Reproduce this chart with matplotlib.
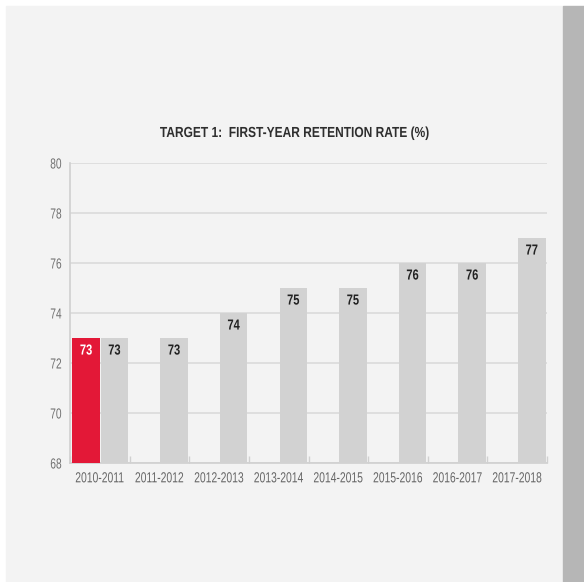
import numpy as np
import matplotlib.pyplot as plt
import matplotlib.patches as mpatches
from matplotlib.patheffects import AbstractPathEffect
from matplotlib.transforms import Affine2D

# first-year retention rate by academic year
years = ['2010-2011', '2011-2012', '2012-2013', '2013-2014',
         '2014-2015', '2015-2016', '2016-2017', '2017-2018']
retention = [73, 73, 74, 75, 75, 76, 76, 77]
baseline_year = ['2010-2011']
baseline = [73]

FONT = 'Liberation Sans'


class Squeeze(AbstractPathEffect):
    """Narrow a text horizontally, keeping its anchor edge/centre in place."""

    def __init__(self, text, sx, anchor='center'):
        super().__init__()
        self.text = text
        self.sx = sx
        self.anchor = anchor

    def draw_path(self, renderer, gc, tpath, affine, rgbFace=None):
        bb = self.text.get_window_extent(renderer)
        cx = {'center': (bb.x0 + bb.x1) / 2, 'right': bb.x1, 'left': bb.x0}[self.anchor]
        t = affine + Affine2D().translate(-cx, 0).scale(self.sx, 1).translate(cx, 0)
        renderer.draw_path(gc, tpath, t, rgbFace)


def narrow(text, sx, anchor='center'):
    text.set_path_effects([Squeeze(text, sx, anchor)])


def main():
    fig = plt.figure(figsize=(5.84, 5.82), dpi=100, facecolor='white')

    # panel background and the dark strip on the right
    bg = fig.add_axes([0, 0, 1, 1], zorder=-1)
    bg.set_xlim(0, 584)
    bg.set_ylim(582, 0)
    bg.axis('off')
    bg.add_patch(mpatches.Rectangle((6, 6), 557, 576, color='#f3f3f3'))
    bg.add_patch(mpatches.Rectangle((563, 6), 21, 576, color='#b6b6b6'))

    ax = fig.add_axes([70 / 584, 119 / 582, 477 / 584, 300 / 582])
    ax.set_facecolor('none')

    x = np.arange(len(years))
    w = 0.46
    bx = [years.index(y) for y in baseline_year]

    ax.bar(x + 0.245, retention, width=w, color='#d2d2d2', zorder=3)
    ax.bar(np.array(bx) - 0.23, baseline, width=w, color='#e31837', zorder=3)

    # value labels just under the top of each bar
    for xi, v in zip(x, retention):
        t = ax.annotate(str(v), (xi + 0.245, v), xytext=(0, -4), textcoords='offset points',
                        ha='center', va='top', fontsize=10.5, fontweight='bold',
                        color='#222222', family=FONT, zorder=4)
        narrow(t, 0.76)
    for xi, v in zip(bx, baseline):
        t = ax.annotate(str(v), (xi - 0.23, v), xytext=(0, -4), textcoords='offset points',
                        ha='center', va='top', fontsize=10.5, fontweight='bold',
                        color='white', family=FONT, zorder=4)
        narrow(t, 0.76)

    ax.set_xlim(-0.5, len(years) - 0.5)
    ax.set_ylim(68, 80)
    ax.set_yticks(range(68, 81, 2))
    ax.yaxis.grid(True, color='#dadada', linewidth=1.2, zorder=1)
    ax.set_axisbelow(True)

    ax.set_xticks(x)
    ax.set_xticklabels(years, family=FONT, fontsize=10.5, color='#666666')
    ax.set_xticks(np.arange(-0.5, len(years)), minor=True)
    ax.tick_params(axis='x', which='major', length=0, pad=6)
    ax.tick_params(axis='x', which='minor', direction='in', length=5, color='#d0d0d0', width=1)
    ax.tick_params(axis='y', length=0, pad=6, labelsize=10.5, labelcolor='#707070')
    for lbl in ax.get_xticklabels():
        narrow(lbl, 0.71)
    for lbl in ax.get_yticklabels():
        lbl.set_family(FONT)
        narrow(lbl, 0.7, 'right')

    for side in ['top', 'right']:
        ax.spines[side].set_visible(False)
    for side in ['left', 'bottom']:
        ax.spines[side].set_color('#d0d0d0')
        ax.spines[side].set_linewidth(1.2)

    title = fig.text(295 / 584, 1 - 133 / 582, 'TARGET 1:  FIRST-YEAR RETENTION RATE (%)',
                     ha='center', va='center', fontsize=10.5, fontweight='bold',
                     color='#2e2e2e', family=FONT)
    narrow(title, 0.82)

    fig.savefig('out.png', dpi=100, facecolor='white')


if __name__ == '__main__':
    main()
